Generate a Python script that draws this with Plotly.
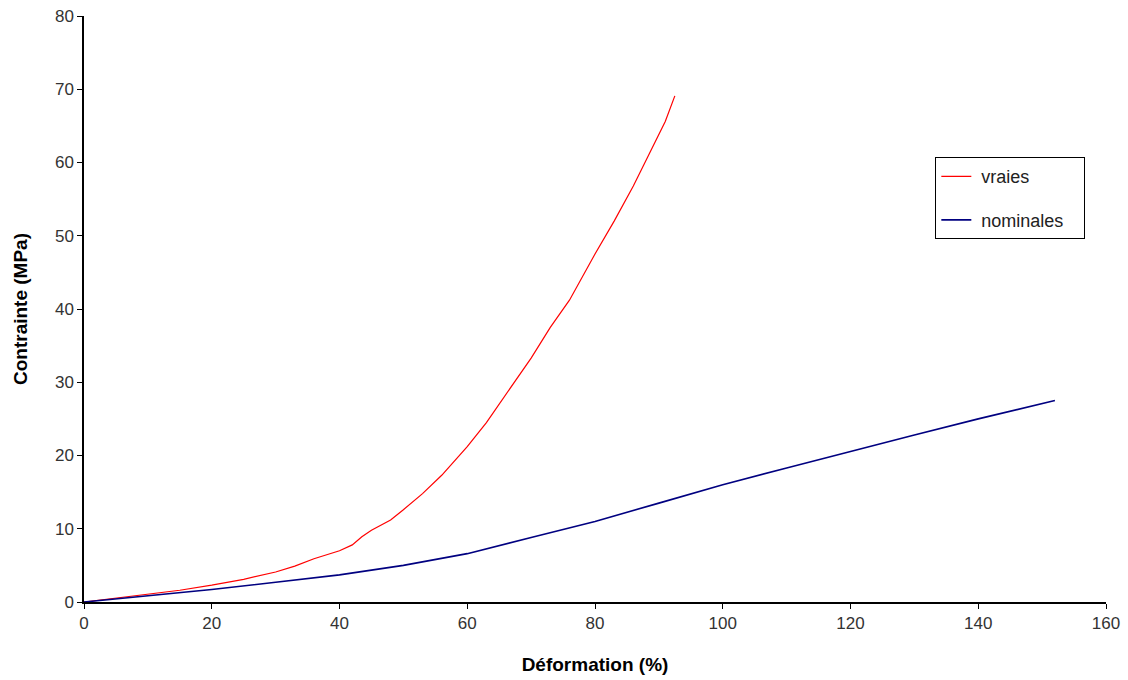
import plotly.graph_objects as go

# Data
vraies_x = [0, 5, 10, 15, 20, 25, 30, 33, 36, 40, 42, 43.5, 45, 48, 50, 53, 56, 60, 63, 66, 70, 73, 76, 80, 83, 86, 89, 91, 92.5]
vraies_y = [0, 0.5, 1.0, 1.6, 2.3, 3.1, 4.1, 4.9, 5.9, 7.0, 7.8, 8.9, 9.8, 11.2, 12.6, 14.8, 17.3, 21.2, 24.5, 28.2, 33.3, 37.5, 41.2, 47.5, 52.0, 56.8, 62.0, 65.6, 69.1]

nominales_x = [0, 10, 20, 30, 40, 50, 60, 70, 80, 90, 100, 110, 120, 130, 140, 152]
nominales_y = [0, 0.8, 1.7, 2.7, 3.7, 5.0, 6.6, 8.8, 11.0, 13.5, 16.0, 18.3, 20.6, 22.8, 25.0, 27.5]

x_ticks = [0, 20, 40, 60, 80, 100, 120, 140, 160]
y_ticks = [0, 10, 20, 30, 40, 50, 60, 70, 80]

FONT = "Liberation Sans, Arial, sans-serif"
PAD = "\u00a0\u00a0\u00a0"

fig = go.Figure()
fig.add_trace(go.Scatter(x=vraies_x, y=vraies_y, mode="lines", name=" vraies",
                         legendgroup="a", line=dict(color="#FF0000", width=1.2)))
fig.add_trace(go.Scatter(x=nominales_x, y=nominales_y, mode="lines", name=" nominales" + PAD,
                         legendgroup="b", line=dict(color="#000080", width=1.6)))

axis_common = dict(showline=True, linecolor="black", linewidth=1.5, ticks="outside",
                   ticklen=5, tickcolor="black", showgrid=False, zeroline=False,
                   automargin=False,
                   tickfont=dict(family=FONT, size=17, color="#333333"))

fig.update_layout(
    width=1128, height=680,
    margin=dict(l=84, r=22, t=16, b=78),
    paper_bgcolor="white", plot_bgcolor="white",
    xaxis=dict(range=[0, 160], tickvals=x_ticks,
               title=dict(text="<b>Déformation (%)</b>", font=dict(family=FONT, size=19, color="black"), standoff=26),
               **axis_common),
    yaxis=dict(range=[0, 80], tickvals=y_ticks,
               title=dict(text="<b>Contrainte (MPa)</b>", font=dict(family=FONT, size=19, color="black"), standoff=22),
               **axis_common),
    legend=dict(x=0.833, y=0.759, xanchor="left", yanchor="top",
                bordercolor="black", borderwidth=1, bgcolor="white",
                font=dict(family=FONT, size=18, color="#222222"),
                traceorder="grouped", tracegroupgap=17),
    showlegend=True,
)

fig.write_html("out.html", config={"displayModeBar": False},
               post_script="document.body.style.margin='0px';")
